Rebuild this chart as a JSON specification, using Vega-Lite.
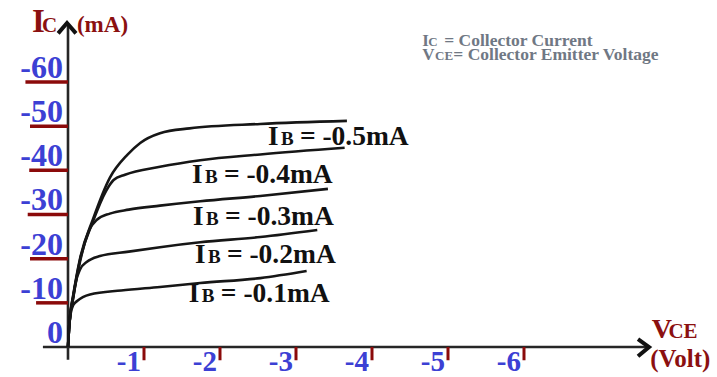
{
  "$schema": "https://vega.github.io/schema/vega-lite/v6.json",
  "width": 717,
  "height": 377,
  "autosize": {"type": "none"},
  "padding": 0,
  "background": "white",
  "config": {"view": {"stroke": null}},
  "datasets": {
    "curves": [
      {"ib": "-0.5", "k": 0, "v": 0, "ic": 0},
      {"ib": "-0.5", "k": 1, "v": -0.013, "ic": -4},
      {"ib": "-0.5", "k": 2, "v": -0.03, "ic": -7.5},
      {"ib": "-0.5", "k": 3, "v": -0.066, "ic": -11.5},
      {"ib": "-0.5", "k": 4, "v": -0.158, "ic": -20},
      {"ib": "-0.5", "k": 5, "v": -0.33, "ic": -29},
      {"ib": "-0.5", "k": 6, "v": -0.55, "ic": -38.3},
      {"ib": "-0.5", "k": 7, "v": -0.78, "ic": -43.5},
      {"ib": "-0.5", "k": 8, "v": -0.95, "ic": -46.2},
      {"ib": "-0.5", "k": 9, "v": -1.21, "ic": -48.4},
      {"ib": "-0.5", "k": 10, "v": -1.6, "ic": -49.5},
      {"ib": "-0.5", "k": 11, "v": -2.53, "ic": -50.5},
      {"ib": "-0.5", "k": 12, "v": -3.67, "ic": -51.2},

      {"ib": "-0.4", "k": 0, "v": 0, "ic": 0},
      {"ib": "-0.4", "k": 1, "v": -0.013, "ic": -4},
      {"ib": "-0.4", "k": 2, "v": -0.03, "ic": -7.5},
      {"ib": "-0.4", "k": 3, "v": -0.066, "ic": -11.3},
      {"ib": "-0.4", "k": 4, "v": -0.158, "ic": -19.7},
      {"ib": "-0.4", "k": 5, "v": -0.33, "ic": -28.5},
      {"ib": "-0.4", "k": 6, "v": -0.5, "ic": -35.3},
      {"ib": "-0.4", "k": 7, "v": -0.6, "ic": -37.8},
      {"ib": "-0.4", "k": 8, "v": -0.75, "ic": -39},
      {"ib": "-0.4", "k": 9, "v": -1.21, "ic": -40.8},
      {"ib": "-0.4", "k": 10, "v": -1.74, "ic": -42.3},
      {"ib": "-0.4", "k": 11, "v": -2.53, "ic": -43.6},
      {"ib": "-0.4", "k": 12, "v": -3.64, "ic": -45.1},

      {"ib": "-0.3", "k": 0, "v": 0, "ic": 0},
      {"ib": "-0.3", "k": 1, "v": -0.013, "ic": -4},
      {"ib": "-0.3", "k": 2, "v": -0.03, "ic": -7.3},
      {"ib": "-0.3", "k": 3, "v": -0.066, "ic": -11},
      {"ib": "-0.3", "k": 4, "v": -0.158, "ic": -19.3},
      {"ib": "-0.3", "k": 5, "v": -0.28, "ic": -26.5},
      {"ib": "-0.3", "k": 6, "v": -0.38, "ic": -28.8},
      {"ib": "-0.3", "k": 7, "v": -0.55, "ic": -30.2},
      {"ib": "-0.3", "k": 8, "v": -0.8, "ic": -31.1},
      {"ib": "-0.3", "k": 9, "v": -1.21, "ic": -32},
      {"ib": "-0.3", "k": 10, "v": -1.74, "ic": -33},
      {"ib": "-0.3", "k": 11, "v": -2.53, "ic": -34.2},
      {"ib": "-0.3", "k": 12, "v": -3.42, "ic": -35.8},

      {"ib": "-0.2", "k": 0, "v": 0, "ic": 0},
      {"ib": "-0.2", "k": 1, "v": -0.013, "ic": -4},
      {"ib": "-0.2", "k": 2, "v": -0.03, "ic": -7.2},
      {"ib": "-0.2", "k": 3, "v": -0.066, "ic": -10.8},
      {"ib": "-0.2", "k": 4, "v": -0.1, "ic": -14.5},
      {"ib": "-0.2", "k": 5, "v": -0.16, "ic": -17.6},
      {"ib": "-0.2", "k": 6, "v": -0.25, "ic": -19.3},
      {"ib": "-0.2", "k": 7, "v": -0.42, "ic": -20.6},
      {"ib": "-0.2", "k": 8, "v": -0.8, "ic": -21.6},
      {"ib": "-0.2", "k": 9, "v": -1.21, "ic": -22.6},
      {"ib": "-0.2", "k": 10, "v": -1.74, "ic": -23.7},
      {"ib": "-0.2", "k": 11, "v": -2.53, "ic": -24.9},
      {"ib": "-0.2", "k": 12, "v": -3.28, "ic": -26.5},

      {"ib": "-0.1", "k": 0, "v": 0, "ic": 0},
      {"ib": "-0.1", "k": 1, "v": -0.013, "ic": -4},
      {"ib": "-0.1", "k": 2, "v": -0.035, "ic": -7.5},
      {"ib": "-0.1", "k": 3, "v": -0.07, "ic": -9.5},
      {"ib": "-0.1", "k": 4, "v": -0.12, "ic": -10.4},
      {"ib": "-0.1", "k": 5, "v": -0.29, "ic": -11.9},
      {"ib": "-0.1", "k": 6, "v": -0.7, "ic": -12.8},
      {"ib": "-0.1", "k": 7, "v": -1.21, "ic": -13.6},
      {"ib": "-0.1", "k": 8, "v": -1.74, "ic": -14.5},
      {"ib": "-0.1", "k": 9, "v": -2.53, "ic": -15.6},
      {"ib": "-0.1", "k": 10, "v": -3.14, "ic": -17.2}
    ],
    "curveLabels": [
      {"ib": "-0.5", "v": -2.63, "ic": -45.7, "rest": "= -0.5mA"},
      {"ib": "-0.4", "v": -1.63, "ic": -37.1, "rest": "= -0.4mA"},
      {"ib": "-0.3", "v": -1.645, "ic": -27.6, "rest": "= -0.3mA"},
      {"ib": "-0.2", "v": -1.67, "ic": -19.0, "rest": "= -0.2mA"},
      {"ib": "-0.1", "v": -1.59, "ic": -10.2, "rest": "= -0.1mA"}
    ],
    "axisLines": [
      {"seg": "x", "k": 0, "v": 0.33, "ic": 0},
      {"seg": "x", "k": 1, "v": -7.62, "ic": 0},
      {"seg": "y", "k": 0, "v": 0, "ic": 2.9},
      {"seg": "y", "k": 1, "v": 0, "ic": -73}
    ],
    "arrowHeads": [
      {"seg": "x", "k": 0, "v": -7.5, "ic": -1.8},
      {"seg": "x", "k": 1, "v": -7.645, "ic": 0},
      {"seg": "x", "k": 2, "v": -7.5, "ic": 2.1},
      {"seg": "y", "k": 0, "v": 0.13, "ic": -71.0},
      {"seg": "y", "k": 1, "v": 0.013, "ic": -73.35},
      {"seg": "y", "k": 2, "v": -0.105, "ic": -71.0}
    ],
    "yTicks": [
      {"ic": 0, "v": 0, "v2": 0.53, "label": "0"},
      {"ic": -10, "v": 0, "v2": 0.42, "label": "-10"},
      {"ic": -20, "v": 0, "v2": 0.5, "label": "-20"},
      {"ic": -30, "v": 0, "v2": 0.53, "label": "-30"},
      {"ic": -40, "v": 0, "v2": 0.51, "label": "-40"},
      {"ic": -50, "v": 0, "v2": 0.5, "label": "-50"},
      {"ic": -60, "v": 0, "v2": 0.56, "label": "-60"}
    ],
    "xTicks": [
      {"v": -1, "ic": 0, "ic2": 3, "label": "-1"},
      {"v": -2, "ic": 0, "ic2": 3, "label": "-2"},
      {"v": -3, "ic": 0, "ic2": 3, "label": "-3"},
      {"v": -4, "ic": 0, "ic2": 3, "label": "-4"},
      {"v": -5, "ic": 0, "ic2": 3, "label": "-5"},
      {"v": -6, "ic": 0, "ic2": 3, "label": "-6"}
    ],
    "notes": [
      {"part": "icBig", "v": 0.474, "ic": -71.3, "t": "I"},
      {"part": "icSmall", "v": 0.342, "ic": -71.3, "t": "C"},
      {"part": "icUnit", "v": -0.118, "ic": -71.3, "t": "(mA)"},
      {"part": "vceBig", "v": -7.68, "ic": -2.04, "t": "V"},
      {"part": "vceSmall", "v": -7.9, "ic": -2.04, "t": "CE"},
      {"part": "vceUnit", "v": -7.66, "ic": 4.6, "t": "(Volt)"},
      {"part": "keyBig", "v": -4.66, "ic": -68.1, "t": "I"},
      {"part": "keySmall", "v": -4.74, "ic": -68.1, "t": "C"},
      {"part": "keyRest", "v": -4.95, "ic": -68.1, "t": "= Collector Current"},
      {"part": "keyBig", "v": -4.66, "ic": -64.9, "t": "V"},
      {"part": "keySmall", "v": -4.83, "ic": -64.9, "t": "CE"},
      {"part": "keyRest", "v": -5.07, "ic": -64.9, "t": "= Collector Emitter Voltage"}
    ]
  },
  "encoding": {
    "x": {
      "field": "v",
      "type": "quantitative",
      "scale": {"domain": [-8.5395, 0.8947], "reverse": true, "nice": false, "zero": false},
      "axis": null
    },
    "y": {
      "field": "ic",
      "type": "quantitative",
      "scale": {"domain": [-78.56, 6.79], "reverse": true, "nice": false, "zero": false},
      "axis": null
    }
  },
  "layer": [
    {
      "data": {"name": "axisLines"},
      "mark": {"type": "line", "color": "#262626", "strokeWidth": 2.6, "strokeCap": "butt"},
      "encoding": {"detail": {"field": "seg"}, "order": {"field": "k"}}
    },
    {
      "data": {"name": "arrowHeads"},
      "mark": {"type": "line", "color": "#111111", "strokeWidth": 4, "strokeJoin": "miter", "strokeCap": "butt"},
      "encoding": {"detail": {"field": "seg"}, "order": {"field": "k"}}
    },
    {
      "data": {"name": "yTicks"},
      "transform": [{"filter": "datum.ic < 0"}],
      "mark": {"type": "rule", "color": "#8b0a0a", "strokeWidth": 3.5},
      "encoding": {"x2": {"field": "v2"}}
    },
    {
      "data": {"name": "yTicks"},
      "mark": {"type": "text", "align": "right", "baseline": "alphabetic", "dx": -5, "dy": -4,
               "font": "Liberation Serif", "fontWeight": "bold", "fontSize": 32, "color": "#3c40d4"},
      "encoding": {"text": {"field": "label"}}
    },
    {
      "data": {"name": "xTicks"},
      "mark": {"type": "rule", "color": "#8b0a0a", "strokeWidth": 3},
      "encoding": {"y2": {"field": "ic2"}}
    },
    {
      "data": {"name": "xTicks"},
      "mark": {"type": "text", "align": "right", "baseline": "alphabetic", "dx": -3, "dy": 24,
               "font": "Liberation Serif", "fontWeight": "bold", "fontSize": 29, "color": "#3c40d4"},
      "encoding": {"text": {"field": "label"}}
    },
    {
      "data": {"name": "curves"},
      "mark": {"type": "line", "color": "#161616", "strokeWidth": 2.6, "interpolate": "monotone"},
      "encoding": {"detail": {"field": "ib"}, "order": {"field": "k"}}
    },
    {
      "data": {"name": "curveLabels"},
      "mark": {"type": "text", "text": "I", "align": "left", "baseline": "alphabetic",
               "font": "Liberation Serif", "fontWeight": "bold", "fontSize": 27, "color": "#111111"}
    },
    {
      "data": {"name": "curveLabels"},
      "mark": {"type": "text", "text": "B", "align": "left", "baseline": "alphabetic", "dx": 13,
               "font": "Liberation Serif", "fontWeight": "bold", "fontSize": 19, "color": "#111111"}
    },
    {
      "data": {"name": "curveLabels"},
      "mark": {"type": "text", "align": "left", "baseline": "alphabetic", "dx": 32,
               "font": "Liberation Serif", "fontWeight": "bold", "fontSize": 27.5, "color": "#111111"},
      "encoding": {"text": {"field": "rest"}}
    },
    {
      "data": {"name": "notes"},
      "transform": [{"filter": "datum.part === 'icBig'"}],
      "mark": {"type": "text", "align": "left", "baseline": "alphabetic",
               "font": "Liberation Serif", "fontWeight": "bold", "fontSize": 33, "color": "#8b1010"},
      "encoding": {"text": {"field": "t"}}
    },
    {
      "data": {"name": "notes"},
      "transform": [{"filter": "datum.part === 'icSmall'"}],
      "mark": {"type": "text", "align": "left", "baseline": "alphabetic",
               "font": "Liberation Serif", "fontWeight": "bold", "fontSize": 21, "color": "#8b1010"},
      "encoding": {"text": {"field": "t"}}
    },
    {
      "data": {"name": "notes"},
      "transform": [{"filter": "datum.part === 'icUnit'"}],
      "mark": {"type": "text", "align": "left", "baseline": "alphabetic",
               "font": "Liberation Serif", "fontWeight": "bold", "fontSize": 23, "color": "#8b1010"},
      "encoding": {"text": {"field": "t"}}
    },
    {
      "data": {"name": "notes"},
      "transform": [{"filter": "datum.part === 'vceBig'"}],
      "mark": {"type": "text", "align": "left", "baseline": "alphabetic",
               "font": "Liberation Serif", "fontWeight": "bold", "fontSize": 28, "color": "#8b1010"},
      "encoding": {"text": {"field": "t"}}
    },
    {
      "data": {"name": "notes"},
      "transform": [{"filter": "datum.part === 'vceSmall'"}],
      "mark": {"type": "text", "align": "left", "baseline": "alphabetic",
               "font": "Liberation Serif", "fontWeight": "bold", "fontSize": 21, "color": "#8b1010"},
      "encoding": {"text": {"field": "t"}}
    },
    {
      "data": {"name": "notes"},
      "transform": [{"filter": "datum.part === 'vceUnit'"}],
      "mark": {"type": "text", "align": "left", "baseline": "alphabetic",
               "font": "Liberation Serif", "fontWeight": "bold", "fontSize": 25, "color": "#8b1010"},
      "encoding": {"text": {"field": "t"}}
    },
    {
      "data": {"name": "notes"},
      "transform": [{"filter": "datum.part === 'keyBig'"}],
      "mark": {"type": "text", "align": "left", "baseline": "alphabetic",
               "font": "Liberation Serif", "fontWeight": "bold", "fontSize": 17, "color": "#707884"},
      "encoding": {"text": {"field": "t"}}
    },
    {
      "data": {"name": "notes"},
      "transform": [{"filter": "datum.part === 'keySmall'"}],
      "mark": {"type": "text", "align": "left", "baseline": "alphabetic",
               "font": "Liberation Serif", "fontWeight": "bold", "fontSize": 13, "color": "#707884"},
      "encoding": {"text": {"field": "t"}}
    },
    {
      "data": {"name": "notes"},
      "transform": [{"filter": "datum.part === 'keyRest'"}],
      "mark": {"type": "text", "align": "left", "baseline": "alphabetic",
               "font": "Liberation Serif", "fontWeight": "bold", "fontSize": 17.5, "color": "#707884"},
      "encoding": {"text": {"field": "t"}}
    }
  ]
}
